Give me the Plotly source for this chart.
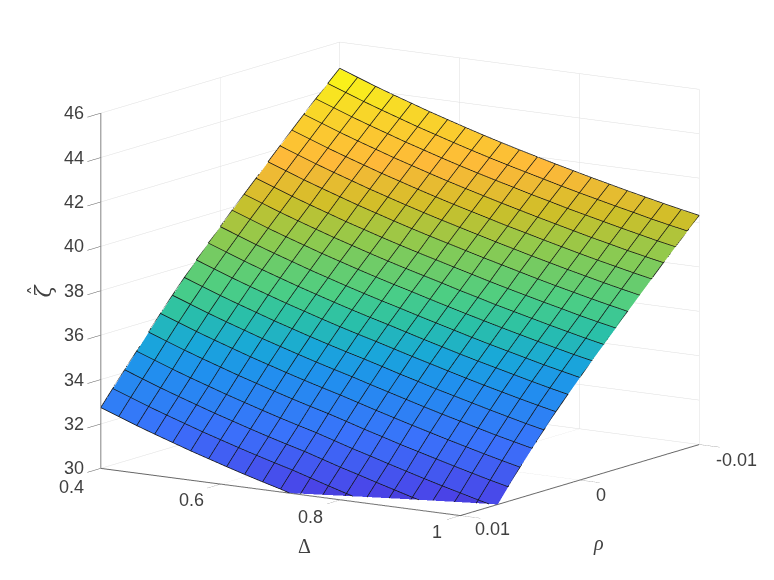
import math
import plotly.graph_objects as go

# Grid of the surface.
delta = [0.4, 0.43, 0.46, 0.49, 0.52, 0.55, 0.58, 0.61, 0.64, 0.67, 0.7,
         0.73, 0.76, 0.79, 0.82, 0.85, 0.88, 0.91, 0.94, 0.97, 1.0]
rho = [0.01, 0.009, 0.008, 0.007, 0.006, 0.005, 0.004, 0.003, 0.002, 0.001, 0.0,
       -0.001, -0.002, -0.003, -0.004, -0.005, -0.006, -0.007, -0.008, -0.009, -0.01]

# One row per rho, one column per delta.
zeta = [
    [32.72, 32.42, 32.12, 31.84, 31.57, 31.30, 31.05, 30.80, 30.56, 30.33, 30.11, 29.86, 29.61, 29.37, 29.13, 28.90, 28.67, 28.45, 28.23, 28.02, 27.82],
    [33.42, 33.12, 32.82, 32.54, 32.27, 32.00, 31.75, 31.50, 31.26, 31.03, 30.81, 30.56, 30.31, 30.07, 29.83, 29.60, 29.38, 29.16, 28.94, 28.73, 28.53],
    [34.10, 33.80, 33.50, 33.22, 32.95, 32.68, 32.43, 32.18, 31.94, 31.71, 31.49, 31.24, 30.99, 30.76, 30.52, 30.29, 30.06, 29.84, 29.63, 29.42, 29.22],
    [34.78, 34.48, 34.18, 33.90, 33.63, 33.36, 33.11, 32.86, 32.62, 32.39, 32.17, 31.92, 31.67, 31.44, 31.20, 30.97, 30.74, 30.52, 30.31, 30.10, 29.90],
    [35.48, 35.18, 34.88, 34.60, 34.33, 34.06, 33.81, 33.56, 33.32, 33.09, 32.87, 32.63, 32.38, 32.15, 31.91, 31.69, 31.47, 31.25, 31.04, 30.83, 30.64],
    [36.16, 35.86, 35.56, 35.28, 35.01, 34.74, 34.49, 34.24, 34.00, 33.77, 33.55, 33.31, 33.07, 32.84, 32.61, 32.39, 32.17, 31.96, 31.75, 31.55, 31.36],
    [36.82, 36.52, 36.22, 35.94, 35.67, 35.40, 35.15, 34.90, 34.66, 34.43, 34.21, 33.97, 33.74, 33.51, 33.28, 33.06, 32.85, 32.64, 32.43, 32.24, 32.05],
    [37.46, 37.16, 36.86, 36.58, 36.31, 36.04, 35.79, 35.54, 35.30, 35.07, 34.85, 34.62, 34.38, 34.16, 33.93, 33.72, 33.51, 33.30, 33.10, 32.90, 32.72],
    [38.09, 37.79, 37.49, 37.21, 36.94, 36.67, 36.42, 36.17, 35.93, 35.70, 35.48, 35.25, 35.02, 34.80, 34.58, 34.36, 34.15, 33.95, 33.75, 33.56, 33.38],
    [38.69, 38.39, 38.09, 37.81, 37.54, 37.27, 37.02, 36.77, 36.53, 36.30, 36.08, 35.85, 35.62, 35.40, 35.18, 34.97, 34.77, 34.57, 34.37, 34.18, 34.00],
    [39.27, 38.97, 38.67, 38.39, 38.12, 37.85, 37.60, 37.35, 37.11, 36.88, 36.66, 36.43, 36.21, 35.99, 35.77, 35.56, 35.36, 35.16, 34.96, 34.78, 34.60],
    [39.85, 39.55, 39.25, 38.97, 38.70, 38.43, 38.18, 37.93, 37.69, 37.46, 37.24, 37.01, 36.79, 36.57, 36.36, 36.15, 35.95, 35.75, 35.56, 35.37, 35.20],
    [40.41, 40.11, 39.81, 39.53, 39.26, 38.99, 38.74, 38.49, 38.25, 38.02, 37.80, 37.58, 37.35, 37.14, 36.92, 36.72, 36.52, 36.32, 36.13, 35.94, 35.77],
    [40.97, 40.67, 40.37, 40.09, 39.82, 39.55, 39.30, 39.05, 38.81, 38.58, 38.36, 38.14, 37.92, 37.70, 37.49, 37.29, 37.09, 36.90, 36.70, 36.52, 36.35],
    [41.55, 41.25, 40.95, 40.67, 40.40, 40.13, 39.88, 39.63, 39.39, 39.16, 38.94, 38.72, 38.50, 38.29, 38.08, 37.87, 37.67, 37.48, 37.29, 37.11, 36.94],
    [42.11, 41.81, 41.51, 41.23, 40.96, 40.69, 40.44, 40.19, 39.95, 39.72, 39.50, 39.28, 39.06, 38.85, 38.64, 38.44, 38.24, 38.05, 37.86, 37.68, 37.51],
    [42.66, 42.36, 42.06, 41.78, 41.51, 41.24, 40.99, 40.74, 40.50, 40.27, 40.05, 39.83, 39.61, 39.41, 39.20, 39.00, 38.80, 38.61, 38.43, 38.25, 38.08],
    [43.21, 42.91, 42.61, 42.33, 42.06, 41.79, 41.54, 41.29, 41.05, 40.82, 40.60, 40.38, 40.17, 39.96, 39.76, 39.56, 39.36, 39.18, 38.99, 38.82, 38.65],
    [43.75, 43.45, 43.15, 42.87, 42.60, 42.33, 42.08, 41.83, 41.59, 41.36, 41.14, 40.93, 40.71, 40.51, 40.30, 40.11, 39.92, 39.73, 39.55, 39.37, 39.21],
    [44.28, 43.98, 43.68, 43.40, 43.13, 42.86, 42.61, 42.36, 42.12, 41.89, 41.67, 41.46, 41.25, 41.04, 40.84, 40.65, 40.46, 40.28, 40.09, 39.92, 39.76],
    [44.80, 44.50, 44.20, 43.92, 43.65, 43.38, 43.13, 42.88, 42.64, 42.41, 42.19, 41.98, 41.77, 41.57, 41.37, 41.18, 40.99, 40.81, 40.63, 40.46, 40.30],
]

delta_ticks = [0.4, 0.6, 0.8, 1.0]
delta_labels = ["0.4", "0.6", "0.8", "1"]
rho_ticks = [-0.01, 0.0, 0.01]
rho_labels = ["-0.01", "0", "0.01"]
zeta_ticks = [30, 32, 34, 36, 38, 40, 42, 44, 46]
zeta_labels = ["30", "32", "34", "36", "38", "40", "42", "44", "46"]

# Parula-like map, stops matched to the colours in the picture.
parula = [
    [0.000, "#3e26a8"], [0.115, "#4a44e8"], [0.236, "#3a72fb"], [0.358, "#2090ee"],
    [0.418, "#19a8d8"], [0.479, "#2ac0a8"], [0.540, "#4cce84"], [0.642, "#8cca50"],
    [0.721, "#cfbf28"], [0.806, "#feb83a"], [0.903, "#f8d42a"], [1.000, "#f9fb15"],
]
zmin, zmax = 28.2, 44.8


def cell_color(value):
    t = min(max((value - zmin) / (zmax - zmin), 0), 1)
    for (t0, c0), (t1, c1) in zip(parula, parula[1:]):
        if t <= t1:
            f = (t - t0) / (t1 - t0)
            rgb = [round(int(c0[n:n + 2], 16) * (1 - f) + int(c1[n:n + 2], 16) * f) for n in (1, 3, 5)]
            return "rgb(%d,%d,%d)" % tuple(rgb)
    return parula[-1][1]


# Flat coloured cells, like a faceted surf: two triangles for each cell.
nx, ny = len(delta), len(rho)
vx = [d for r in rho for d in delta]
vy = [r for r in rho for d in delta]
vz = [v for row in zeta for v in row]
tri_i, tri_j, tri_k, colors = [], [], [], []
for a in range(ny - 1):
    for b in range(nx - 1):
        p = a * nx + b
        tri_i += [p, p]
        tri_j += [p + 1, p + nx + 1]
        tri_k += [p + nx + 1, p + nx]
        c = cell_color((zeta[a][b] + zeta[a][b + 1] + zeta[a + 1][b] + zeta[a + 1][b + 1]) / 4)
        colors += [c, c]

fig = go.Figure(go.Mesh3d(
    x=vx, y=vy, z=vz, i=tri_i, j=tri_j, k=tri_k,
    facecolor=colors, flatshading=True,
    lighting=dict(ambient=1, diffuse=0, specular=0, fresnel=0),
    hoverinfo="skip",
))

# Cell edges, lifted a touch so they sit on top of the faces.
lx, ly, lz = [], [], []
for a in range(ny):
    lx += delta + [None]
    ly += [rho[a]] * nx + [None]
    lz += [v + 0.02 for v in zeta[a]] + [None]
for b in range(nx):
    lx += [delta[b]] * ny + [None]
    ly += rho + [None]
    lz += [row[b] + 0.02 for row in zeta] + [None]
fig.add_trace(go.Scatter3d(
    x=lx, y=ly, z=lz, mode="lines",
    line=dict(color="#141414", width=1.5),
    hoverinfo="skip", showlegend=False,
))

# View direction worked out from the three axis directions on the page.
az = math.radians(33.6)
el = math.radians(11.4)
R = 2.2
shift = dict(x=0.0, y=0.0, z=0.007)
eye = dict(x=R * math.sin(az) * math.cos(el) + shift["x"],
           y=-R * math.cos(az) * math.cos(el) + shift["y"],
           z=R * math.sin(el) + shift["z"])

axis_style = dict(
    showbackground=False, showgrid=True, gridcolor="#dedede", gridwidth=1,
    showline=True, linecolor="#666666", linewidth=2, zeroline=False,
    ticks="outside", ticklen=24, tickcolor="#555555", showspikes=False,
    showticklabels=False, title=dict(text=""),
)

text_font = dict(family="Liberation Sans", size=18, color="#404040")
serif_font = dict(family="Liberation Serif", size=20, color="#404040")
labels = []
for val, txt in zip(zeta_ticks, zeta_labels):
    labels.append(dict(x=0.4, y=0.01, z=val, text=txt, showarrow=False, font=text_font,
                       xanchor="right", xshift=-15, yshift=0))
for val, txt, dx, dy in zip(delta_ticks, delta_labels, [-29, -29, -30, -23], [-19, -16, -17, -16]):
    labels.append(dict(x=val, y=0.01, z=30, text=txt, showarrow=False, font=text_font,
                       xshift=dx, yshift=dy))
for val, txt, dx, dy in zip(rho_ticks, rho_labels, [37, 21, 32], [-15, -14.5, -13]):
    labels.append(dict(x=1.0, y=val, z=30, text=txt, showarrow=False, font=text_font,
                       xshift=dx, yshift=dy))
labels.append(dict(x=0.8, y=0.01, z=30, text="Δ", showarrow=False, font=serif_font, xshift=-36, yshift=-46))
labels.append(dict(x=1.0, y=0.0, z=30, text="<i>ρ</i>", showarrow=False, font=serif_font, xshift=19, yshift=-63.5))
labels.append(dict(x=0.4, y=0.01, z=38, text="<i>ζ</i>", showarrow=False,
                   font=dict(family="DejaVu Serif", size=22, color="#404040"), xshift=-57, textangle=-90))
labels.append(dict(x=0.4, y=0.01, z=38, text="ˆ", showarrow=False,
                   font=dict(family="DejaVu Serif", size=20, color="#404040"), xshift=-64, textangle=-90))

fig.update_layout(
    width=774, height=580,
    margin=dict(l=0, r=0, t=0, b=0),
    paper_bgcolor="white",
    scene=dict(
        domain=dict(x=[10 / 774, 1], y=[42 / 580, 1]),
        aspectmode="manual",
        aspectratio=dict(x=1.605, y=1.605, z=1.347),
        camera=dict(eye=eye, center=shift, up=dict(x=0, y=0, z=1), projection=dict(type="orthographic")),
        xaxis=dict(range=[0.4, 1.0], tickvals=delta_ticks, **axis_style),
        yaxis=dict(range=[0.01, -0.01], tickvals=rho_ticks, **axis_style),
        zaxis=dict(range=[30, 46], tickvals=zeta_ticks, **axis_style),
        annotations=labels,
    ),
)

fig.write_html("out.html")
